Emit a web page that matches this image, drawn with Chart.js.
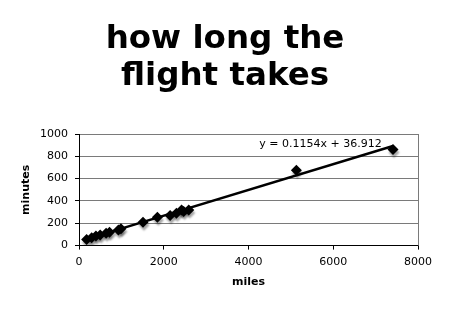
<!DOCTYPE html>
<html>
<head>
<meta charset="utf-8">
<script src="https://cdn.jsdelivr.net/npm/chart.js@4/dist/chart.umd.min.js"></script>
<style>
  html, body { margin: 0; padding: 0; background: #fff; }
  #wrap { width: 450px; height: 309px; }
</style>
</head>
<body>
<div id="wrap"><canvas id="chart"></canvas></div>
<script>
// ------- Data --------------------------------------------------------------

const titleLines = ['how long the', 'flight takes'];

// flight distance (miles) and flight time (minutes)
const miles   = [180, 300, 400, 500, 640, 720, 930, 990, 1510, 1850, 2150, 2300, 2420, 2470, 2590, 5130, 7410];
const minutes = [ 55,  70,  85,  95, 110, 120, 140, 150,  210,  255,  270,  290,  320,  305,  320,  675,  860];

// Excel linear trendline, ends at first/last point
const trendX = [180, 7410];
const trendY = [58, 892];
const trendLabel = 'y = 0.1154x + 36.912';
const labelAt = { x: 5700, y: 910 };

const xTicks = [0, 2000, 4000, 6000, 8000];
const yTicks = [0, 200, 400, 600, 800, 1000];

// ---------------------------------------------------------------------------

const FONT = '"DejaVu Sans", Verdana, sans-serif';
const GRID = '#7a7a7a';

// big two-line title, centred on the whole page (not on the padded box)
const titlePlugin = {
  id: 'bigTitle',
  afterDraw (chart) {
    const ctx = chart.ctx;
    ctx.save();
    ctx.fillStyle = '#000';
    ctx.font = 'bold 32.5px ' + FONT;
    ctx.textAlign = 'center';
    ctx.textBaseline = 'middle';
    titleLines.forEach((t, i) => ctx.fillText(t, chart.width / 2, 40 + i * 36.8));
    ctx.restore();
  }
};

// gray frame on the right + equation text
const framePlugin = {
  id: 'frame',
  afterDraw (chart) {
    const { ctx, chartArea: a, scales } = chart;
    ctx.save();
    ctx.strokeStyle = GRID;
    ctx.lineWidth = 1;
    ctx.beginPath();
    ctx.moveTo(a.right + 0.5, a.top);
    ctx.lineTo(a.right + 0.5, a.bottom);
    ctx.stroke();
    ctx.fillStyle = '#000';
    ctx.font = '11px ' + FONT;
    ctx.textAlign = 'center';
    ctx.textBaseline = 'middle';
    ctx.fillText(trendLabel, scales.x.getPixelForValue(labelAt.x), scales.y.getPixelForValue(labelAt.y));
    ctx.restore();
  }
};

// soft drop shadow under the diamonds
const shadowPlugin = {
  id: 'shadow',
  beforeDatasetDraw (chart, args) {
    if (args.index !== 1) return;
    const c = chart.ctx;
    c.save();
    c.shadowColor = 'rgba(0,0,0,0.35)';
    c.shadowOffsetX = 1;
    c.shadowOffsetY = 3;
    c.shadowBlur = 2;
  },
  afterDatasetDraw (chart, args) {
    if (args.index === 1) chart.ctx.restore();
  }
};

new Chart(document.getElementById('chart'), {
  type: 'scatter',
  data: {
    datasets: [
      {
        type: 'line',
        data: trendX.map((x, i) => ({ x, y: trendY[i] })),
        borderColor: '#000',
        borderWidth: 2.5,
        pointRadius: 0,
        order: 2
      },
      {
        data: miles.map((x, i) => ({ x, y: minutes[i] })),
        pointStyle: 'rectRot',
        pointRadius: 5.5,
        backgroundColor: '#000',
        borderColor: '#000',
        borderWidth: 0,
        order: 1
      }
    ]
  },
  options: {
    responsive: true,
    maintainAspectRatio: false,
    animation: false,
    layout: { padding: { left: 16, right: 32, top: 134, bottom: 20 } },
    plugins: {
      legend: { display: false },
      tooltip: { enabled: false },
      title: { display: false }
    },
    scales: {
      x: {
        type: 'linear',
        min: 0, max: 8000,
        afterBuildTicks: s => { s.ticks = xTicks.map(v => ({ value: v })); },
        grid: { drawOnChartArea: false, drawTicks: true, tickLength: 4, color: '#000' },
        border: { color: '#000', width: 1 },
        ticks: { color: '#000', padding: 6, maxRotation: 0, font: { family: FONT, size: 11 },
                 callback: v => String(v) },
        title: { display: true, text: 'miles', color: '#000', padding: { top: 1, bottom: 0 },
                 font: { family: FONT, size: 11, weight: 'bold' } }
      },
      y: {
        min: 0, max: 1000,
        afterBuildTicks: s => { s.ticks = yTicks.map(v => ({ value: v })); },
        afterFit: s => { s.width = 63; },
        grid: { color: GRID, lineWidth: 1, tickLength: 4, tickColor: '#000' },
        border: { color: '#000', width: 1 },
        ticks: { color: '#000', padding: 7, font: { family: FONT, size: 11 },
                 callback: v => String(v) },
        title: { display: true, text: 'minutes', color: '#000', padding: { top: 4, bottom: 0 },
                 font: { family: FONT, size: 11, weight: 'bold' } }
      }
    }
  },
  plugins: [titlePlugin, framePlugin, shadowPlugin]
});
</script>
</body>
</html>
